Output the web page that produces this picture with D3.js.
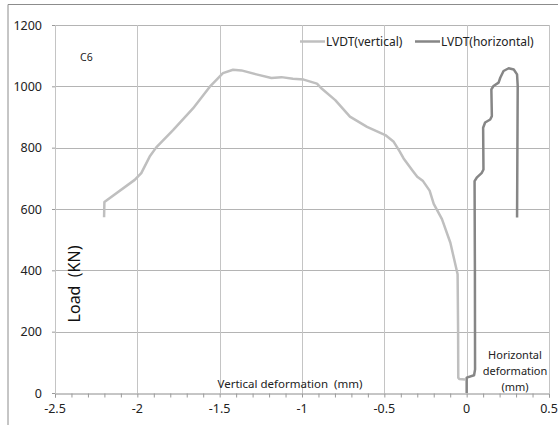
<!DOCTYPE html>
<html><head><meta charset="utf-8">
<script src="https://cdn.jsdelivr.net/npm/d3@7"></script>
<style>body{margin:0;background:#fff}svg{display:block}text{font-family:"Noto Sans","Open Sans",sans-serif}</style>
</head><body><svg id="c" width="558" height="425"></svg>
<script>
const seriesNames = ["LVDT(vertical)", "LVDT(horizontal)"];
const verticalX = [-2.202,-2.2,-2.016,-1.976,-1.925,-1.885,-1.783,-1.662,-1.561,-1.48,-1.419,-1.368,-1.277,-1.186,-1.125,-1.055,-0.99,-0.909,-0.879,-0.798,-0.709,-0.605,-0.494,-0.443,-0.408,-0.383,-0.327,-0.3,-0.265,-0.225,-0.2,-0.15,-0.099,-0.055,-0.052,-0.051,-0.045,-0.01];
const verticalY = [573,623,695,717,771,801,857,928,998,1043,1054,1052,1039,1027,1030,1025,1022,1009,992,955,901,868,841,819,789,765,724,705,691,660,617,567,490,387,200,50,46,44];
const horizontalX = [0,0,0.045,0.051,0.05,0.048,0.061,0.092,0.102,0.1,0.112,0.143,0.153,0.15,0.163,0.194,0.204,0.224,0.255,0.286,0.306,0.31,0.306];
const horizontalY = [0,50,58,77,400,691,702,718,729,865,882,892,903,990,1001,1012,1028,1050,1059,1055,1039,1001,572];
const xTicks = [-2.5,-2,-1.5,-1,-0.5,0,0.5];
const yTicks = [0,200,400,600,800,1000,1200];

const svg = d3.select("#c");
const L = 55, R = 549, T = 25, B = 393;
const x = d3.scaleLinear().domain([-2.5,0.5]).range([L,R]);
const y = d3.scaleLinear().domain([0,1200]).range([B,T]);

// outer border
svg.append("path").attr("d",`M8,425V4.5H558`).attr("fill","none").attr("stroke","#8c8c8c").attr("stroke-width",1);

// gridlines
svg.append("g").selectAll("line").data(yTicks.filter(d=>d>0)).join("line")
  .attr("x1",L).attr("x2",R).attr("y1",d=>Math.round(y(d))+0.5).attr("y2",d=>Math.round(y(d))+0.5)
  .attr("stroke","#b4b4b4").attr("stroke-width",1);
svg.append("g").selectAll("line").data(xTicks).join("line")
  .attr("x1",d=>Math.round(x(d))+0.5).attr("x2",d=>Math.round(x(d))+0.5).attr("y1",T).attr("y2",B)
  .attr("stroke","#c4c4c4").attr("stroke-width",1);

// x axis
const xAxis = d3.axisBottom(x).tickValues(d3.range(-25,6).map(d=>d/10)).tickSize(4).tickFormat("");
const gx = svg.append("g").attr("transform",`translate(0,${B+0.5})`).call(xAxis);
gx.select(".domain").attr("stroke","#8c8c8c");
gx.selectAll(".tick line").attr("stroke","#9a9a9a");
svg.append("g").selectAll("text").data(xTicks).join("text")
  .attr("x",d=>x(d)).attr("y",413).attr("text-anchor","middle").attr("font-size",12.5).attr("fill","#222")
  .text(d=>String(d));

// y axis labels
const yAxis = d3.axisLeft(y).tickValues(yTicks).tickSize(3).tickFormat(d=>d);
const gy = svg.append("g").attr("transform",`translate(${L},0)`).call(yAxis);
gy.select(".domain").remove();
gy.selectAll(".tick line").attr("stroke","#9a9a9a");
gy.selectAll(".tick text").attr("x",-13).attr("font-size",12.5).attr("fill","#222").attr("font-family","Noto Sans");

// lines
const line = d3.line().x(d=>x(d[0])).y(d=>y(d[1])).curve(d3.curveLinear);
const vData = verticalX.map((v,i)=>[v,verticalY[i]]);
const hData = horizontalX.map((v,i)=>[v,horizontalY[i]]);
svg.append("path").datum(vData).attr("d",line).attr("fill","none").attr("stroke","#bfbfbf").attr("stroke-width",2.5).attr("stroke-linejoin","round");
svg.append("path").datum(hData).attr("d",line).attr("fill","none").attr("stroke","#868686").attr("stroke-width",2.5).attr("stroke-linejoin","round");

// legend
const leg = [[300,seriesNames[0],"#bfbfbf"],[415,seriesNames[1],"#868686"]];
leg.forEach(([lx,name,col])=>{
  svg.append("line").attr("x1",lx).attr("x2",lx+25).attr("y1",41.5).attr("y2",41.5).attr("stroke",col).attr("stroke-width",2.5);
  svg.append("text").attr("x",lx+26).attr("y",46).attr("font-size",12).attr("fill","#222").text(name);
});

// annotations
svg.append("text").attr("x",80).attr("y",61).attr("font-size",10.5).attr("fill","#222").text("C6");
svg.append("text").attr("transform","translate(80,284) rotate(-90)").attr("text-anchor","middle").attr("font-size",16).attr("fill","#111").style("white-space","pre").text("Load  (KN)");
svg.append("text").attr("x",290).attr("y",388).attr("text-anchor","middle").attr("font-size",11.5).attr("fill","#222").style("white-space","pre").text("Vertical deformation  (mm)");
["Horizontal","deformation","(mm)"].forEach((t,i)=>{
  svg.append("text").attr("x",515).attr("y",359+i*16).attr("text-anchor","middle").attr("font-size",11).attr("fill","#222").text(t);
});
</script></body></html>
